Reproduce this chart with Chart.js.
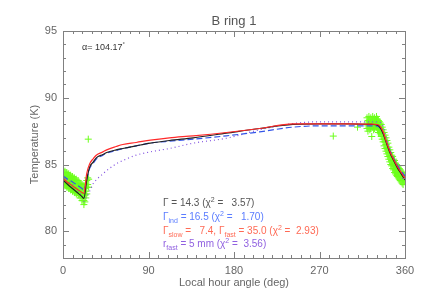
<!DOCTYPE html>
<html>
<head>
<meta charset="utf-8">
<script src="https://cdn.jsdelivr.net/npm/chart.js@4.4.1/dist/chart.umd.min.js"></script>
<style>
  html, body { margin: 0; padding: 0; background: #fff; }
  #c { display: block; }
</style>
</head>
<body>
<canvas id="c" width="427" height="305" style="width:427px;height:305px"></canvas>
<script>
// tick values
var xTicks = [0, 90, 180, 270, 360];
var yTicks = [80, 85, 90, 95];
var xMinorStep = 10, yMinorStep = 1;

// model curves
var modelAngle = [0, 5, 10, 15, 20, 22, 25, 28, 32, 35, 42, 46, 56, 63, 77, 92, 112, 137, 172, 207, 242, 270, 300, 325, 331, 334, 337, 340, 344, 348, 352, 356, 360];
var modelGamma = [83.84, 83.5, 83.2, 82.9, 82.6, 82.47, 83.84, 84.8, 85.2, 85.5, 85.75, 85.9, 86.1, 86.2, 86.4, 86.6, 86.8, 87.0, 87.35, 87.7, 88.0, 88.05, 88.05, 88.0, 87.95, 87.75, 87.3, 86.7, 85.9, 85.3, 84.75, 84.3, 83.84];
var modelInd   = [84.14, 83.9, 83.7, 83.45, 83.2, 83.1, 83.9, 84.7, 85.1, 85.4, 85.7, 85.85, 86.05, 86.2, 86.4, 86.6, 86.75, 86.9, 87.15, 87.45, 87.8, 87.9, 87.9, 87.9, 87.88, 87.7, 87.35, 86.8, 86.05, 85.45, 84.95, 84.5, 84.14];
var modelTwo   = [83.97, 83.65, 83.4, 83.15, 82.9, 82.84, 84.34, 85.05, 85.45, 85.7, 85.95, 86.1, 86.35, 86.5, 86.65, 86.83, 87.0, 87.15, 87.4, 87.7, 88.05, 88.05, 88.05, 88.03, 88.0, 87.85, 87.45, 86.8, 86.0, 85.4, 84.85, 84.4, 83.97];
var modelSize  = [84.05, 83.8, 83.5, 83.1, 82.6, 82.25, 82.6, 83.0, 83.6, 83.85, 84.3, 84.55, 85.05, 85.3, 85.7, 85.95, 86.2, 86.6, 86.97, 87.6, 88.07, 88.2, 88.2, 88.2, 88.2, 88.15, 87.85, 87.1, 86.2, 85.5, 85.0, 84.5, 84.05];

// observed temperatures [angle, K]
var obsDawn = [
  [0,84.6],[0,84.2],[0,83.8],[0,83.5],[1,84.4],[1,84.0],[1,83.6],
  [2,84.5],[2,84.1],[2,83.7],[2,83.4],[3,84.3],[3,83.9],[3,83.5],
  [4,84.4],[4,84.0],[4,83.6],[4,83.3],[5,84.2],[5,83.8],[5,83.4],
  [6,84.3],[6,83.9],[6,83.5],[6,83.2],[7,84.1],[7,83.7],[7,83.3],
  [8,84.2],[8,83.8],[8,83.4],[8,83.1],[9,84.0],[9,83.6],[9,83.2],
  [10,84.1],[10,83.7],[10,83.3],[10,83.0],[11,83.9],[11,83.5],[11,83.1],
  [12,84.0],[12,83.6],[12,83.2],[12,82.9],[13,83.8],[13,83.4],[13,83.0],
  [14,83.9],[14,83.5],[14,83.1],[14,82.8],[15,83.7],[15,83.3],[15,82.9],
  [16,83.8],[16,83.4],[16,83.0],[16,82.7],[17,83.6],[17,83.2],[17,82.8],
  [18,83.6],[18,83.2],[18,82.8],[18,82.5],[19,83.5],[19,83.1],[19,82.7],
  [20,83.5],[20,83.1],[20,82.6],[20,82.3],[21,83.3],[21,82.9],[21,82.5],
  [22,83.4],[22,82.8],[22,82.3],[22,82.0],[23,83.2],[23,82.7],[23,82.2],
  [24,83.6],[24,83.0],[24,82.5],[25,83.8],[25,83.3],[25,82.8],
  [26,84.0],[26,83.5],[27,83.9],[27,83.3],[26.6,86.9]
];
var obsDusk = [
  [284.5,87.13],[310,87.8],
  [320,88.5],[320,88.1],[320,87.7],[321,88.3],[321,87.9],[321,87.5],
  [322,88.6],[322,88.2],[322,87.8],[323,88.4],[323,88.0],[323,87.6],
  [324,88.5],[324,88.1],[324,87.7],[325,88.3],[325,87.9],[325,87.1],
  [326,88.6],[326,88.2],[326,87.8],[327,88.4],[327,88.0],[327,87.6],
  [328,88.5],[328,88.1],[328,87.7],[329,88.3],[329,87.9],
  [330,88.6],[330,88.2],[330,87.8],[331,88.4],[331,88.0],[331,87.6],
  [332,88.3],[332,87.8],[332,87.4],[333,88.2],[333,87.8],[333,87.4],
  [334,88.1],[334,87.7],[334,87.3],[335,88.0],[335,87.5],[335,87.1],
  [336,87.8],[336,87.4],[336,86.9],[337,87.6],[337,87.1],[337,86.7],
  [338,87.4],[338,86.9],[338,86.4],[339,87.2],[339,86.7],[339,86.2],
  [340,87.0],[340,86.5],[340,86.0],[341,86.8],[341,86.3],[341,85.8],
  [342,86.6],[342,86.1],[342,85.6],[343,86.3],[343,85.9],[343,85.4],
  [344,86.1],[344,85.7],[344,85.2],[345,85.9],[345,85.5],[345,85.0],
  [346,85.7],[346,85.3],[346,84.9],[347,85.6],[347,85.1],[347,84.7],
  [348,85.4],[348,85.0],[348,84.6],[349,85.3],[349,84.9],[349,84.4],
  [350,85.1],[350,84.7],[350,84.3],[351,85.0],[351,84.6],[351,84.2],
  [352,84.9],[352,84.5],[352,84.1],[353,84.8],[353,84.4],[353,84.0],
  [354,84.7],[354,84.3],[354,83.9],[355,84.6],[355,84.2],[355,83.8],
  [356,84.5],[356,84.1],[356,83.7],[357,84.4],[357,84.0],[357,83.6],
  [358,84.3],[358,83.9],[358,83.5],[359,84.2],[359,83.8],
  [360,84.1],[360,83.7]
];

var FONT = '"Liberation Sans", Arial, sans-serif';
var axisColor = '#808080';
var textColor = '#666';

// legend lines: [text, 'sub'|'sup'|undefined]
var legendLines = [
  { color: '#555555', parts: [['Γ = 14.3 (χ'], ['2', 'sup'], [' =   3.57)']] },
  { color: '#5a7cff', parts: [['Γ'], ['ind', 'sub'], [' = 16.5 (χ'], ['2', 'sup'], [' =   1.70)']] },
  { color: '#ff6a55', parts: [['Γ'], ['slow', 'sub'], [' =   7.4, Γ'], ['fast', 'sub'], [' = 35.0 (χ'], ['2', 'sup'], [' =  2.93)']] },
  { color: '#9060e0', parts: [['r'], ['fast', 'sub'], [' = 5 mm (χ'], ['2', 'sup'], [' =  3.56)']] }
];

function pts(ys) {
  return modelAngle.map(function (a, i) { return { x: a, y: ys[i] }; });
}
function obs(list) {
  return list.map(function (p) { return { x: p[0], y: p[1] }; });
}

function drawRich(ctx, x, y, parts, size) {
  parts.forEach(function (p) {
    var k = p[1];
    var fs = k ? Math.round(size * 0.65) : size;
    ctx.font = fs + 'px ' + FONT;
    var dy = k === 'sub' ? 3 : (k === 'sup' ? -4 : 0);
    ctx.fillText(p[0], x, y + dy);
    x += ctx.measureText(p[0]).width;
  });
}

// inward ticks on all four sides, plus the frame
var framePlugin = {
  id: 'frame',
  afterDraw: function (chart) {
    var ctx = chart.ctx, a = chart.chartArea, x = chart.scales.x, y = chart.scales.y;
    ctx.save();
    ctx.strokeStyle = axisColor;
    ctx.lineWidth = 1;
    ctx.strokeRect(Math.round(a.left) + 0.5, Math.round(a.top) + 0.5, Math.round(a.right - a.left), Math.round(a.bottom - a.top));
    ctx.beginPath();
    for (var v = x.min; v <= x.max; v += xMinorStep) {
      var px = Math.round(x.getPixelForValue(v)) + 0.5;
      var len = xTicks.indexOf(v) >= 0 ? 6 : 3;
      ctx.moveTo(px, a.bottom); ctx.lineTo(px, a.bottom - len);
      ctx.moveTo(px, a.top); ctx.lineTo(px, a.top + len);
    }
    for (var w = y.min; w <= y.max; w += yMinorStep) {
      var py = Math.round(y.getPixelForValue(w)) + 0.5;
      var l2 = yTicks.indexOf(w) >= 0 ? 6 : 3;
      ctx.moveTo(a.left, py); ctx.lineTo(a.left + l2, py);
      ctx.moveTo(a.right, py); ctx.lineTo(a.right - l2, py);
    }
    ctx.stroke();

    // title and annotations
    ctx.textBaseline = 'alphabetic';
    ctx.fillStyle = '#555';
    ctx.textAlign = 'center';
    ctx.font = '13px ' + FONT;
    ctx.fillText('B ring 1', (a.left + a.right) / 2, 25);

    ctx.textAlign = 'left';
    ctx.fillStyle = '#333';
    ctx.font = '9px ' + FONT;
    ctx.fillText('α= 104.17', 82, 50);
    var wa = ctx.measureText('α= 104.17').width;
    ctx.font = '6px ' + FONT;
    ctx.fillText('°', 82 + wa, 46);

    legendLines.forEach(function (ln, i) {
      ctx.fillStyle = ln.color;
      drawRich(ctx, 163, 206 + i * 13.8, ln.parts, 10);
    });
    ctx.restore();
  }
};

new Chart(document.getElementById('c'), {
  type: 'scatter',
  data: {
    datasets: [
      { label: 'two', data: pts(modelTwo), showLine: true, pointRadius: 0, borderColor: '#ff2a2a', borderWidth: 1.2, cubicInterpolationMode: 'monotone' },
      { label: 'gamma', data: pts(modelGamma), showLine: true, pointRadius: 0, borderColor: '#222', borderWidth: 1.2, cubicInterpolationMode: 'monotone' },
      { label: 'ind', data: pts(modelInd), showLine: true, pointRadius: 0, borderColor: '#3355e8', borderWidth: 1.2, borderDash: [6, 3], cubicInterpolationMode: 'monotone' },
      { label: 'size', data: pts(modelSize), showLine: true, pointRadius: 0, borderColor: '#8050e0', borderWidth: 1.2, borderDash: [1, 3], cubicInterpolationMode: 'monotone' },
      { label: 'obs1', data: obs(obsDawn), pointStyle: 'cross', pointRadius: 3.5, borderColor: '#6cff1a', borderWidth: 1 },
      { label: 'obs2', data: obs(obsDusk), pointStyle: 'cross', pointRadius: 3.5, borderColor: '#6cff1a', borderWidth: 1 }
    ]
  },
  options: {
    responsive: false,
    animation: false,
    devicePixelRatio: 1,
    layout: { padding: { top: 31, right: 22, left: 0, bottom: 0 } },
    plugins: { legend: { display: false }, tooltip: { enabled: false }, title: { display: false } },
    scales: {
      x: {
        type: 'linear', min: 0, max: 360,
        afterBuildTicks: function (s) { s.ticks = xTicks.map(function (v) { return { value: v }; }); },
        afterFit: function (s) { s.height = 47; },
        grid: { display: false, drawTicks: false },
        border: { display: false },
        ticks: { color: textColor, font: { size: 11, family: FONT }, padding: 6, maxRotation: 0, autoSkip: false },
        title: { display: true, text: 'Local hour angle (deg)', color: textColor, font: { size: 11, family: FONT }, padding: { top: 0, bottom: 15 } }
      },
      y: {
        type: 'linear', min: 78, max: 95,
        afterBuildTicks: function (s) { s.ticks = yTicks.map(function (v) { return { value: v }; }); },
        afterFit: function (s) { s.width = 63; },
        grid: { display: false, drawTicks: false },
        border: { display: false },
        ticks: { color: textColor, font: { size: 11, family: FONT }, padding: 6, autoSkip: false },
        title: { display: true, text: 'Temperature (K)', color: textColor, font: { size: 11, family: FONT }, padding: { top: 28, bottom: 0 } }
      }
    }
  },
  plugins: [framePlugin]
});
</script>
</body>
</html>
